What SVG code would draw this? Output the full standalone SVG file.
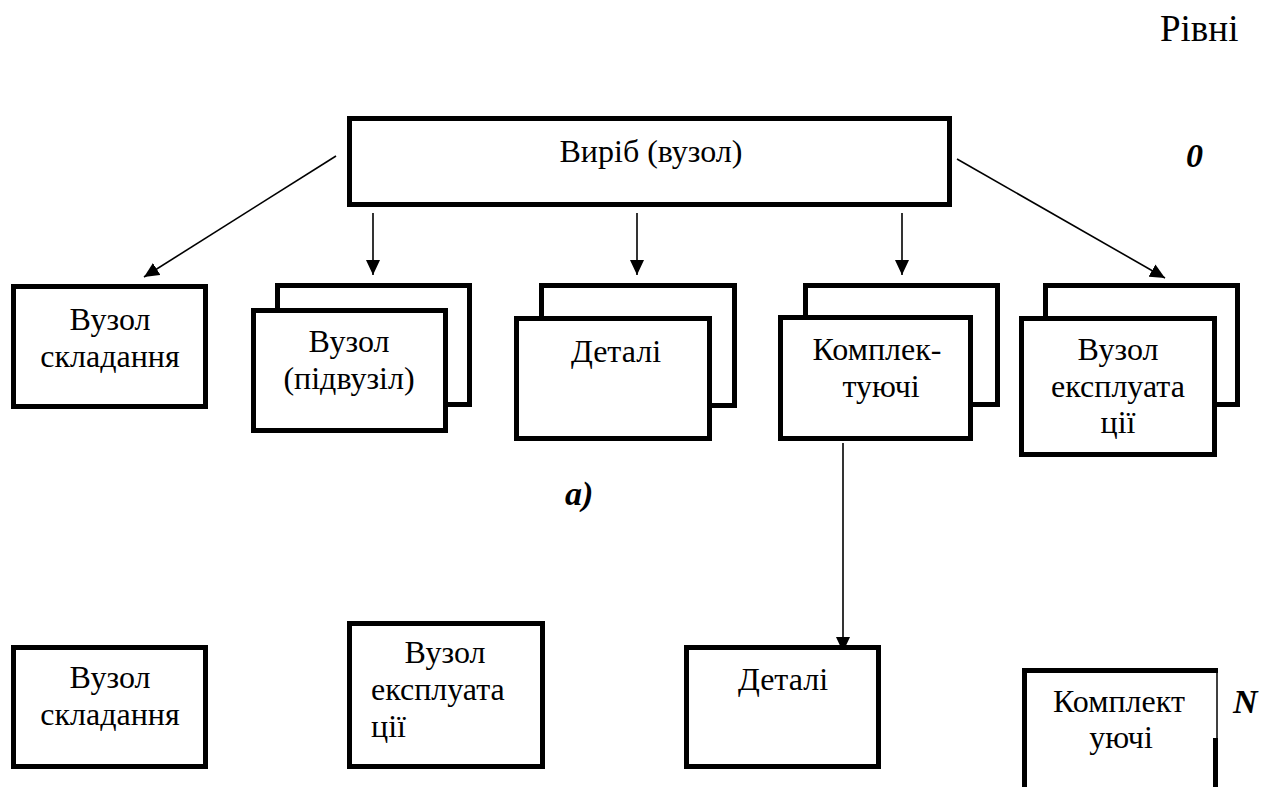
<svg xmlns="http://www.w3.org/2000/svg" width="1277" height="787" viewBox="0 0 1277 787">
  <style>
    .box { fill: #ffffff; stroke: #000000; stroke-width: 5; }
    .edge { fill: none; stroke: #000000; stroke-width: 1.6; }
    .t { font-family: "Liberation Serif", "Times New Roman", serif; font-size: 32px; fill: #000000; text-anchor: middle; }
    .tl { text-anchor: start; }
    .lvl { font-family: "Liberation Serif", "Times New Roman", serif; font-size: 34px; font-weight: bold; font-style: italic; fill: #000000; }
  </style>
  <defs>
    <marker id="ah" viewBox="0 0 15 14" refX="15" refY="7" markerWidth="15" markerHeight="14" markerUnits="userSpaceOnUse" orient="auto">
      <path d="M0,0 L15,7 L0,14 z" fill="#000000"/>
    </marker>
  </defs>
  <rect width="1277" height="787" fill="#ffffff"/>

  <!-- level captions -->
  <text x="1160" y="41" style="font-family: 'Liberation Serif', 'Times New Roman', serif; font-size: 37px;">Рівні</text>
  <text class="lvl" x="1186" y="167">0</text>
  <text class="lvl" x="565" y="505">а)</text>
  <text class="lvl" x="1233" y="713">N</text>

  <!-- connectors -->
  <g id="connectors">
    <line class="edge" x1="336" y1="156" x2="144" y2="277" marker-end="url(#ah)"/>
    <line class="edge" x1="373" y1="213" x2="373" y2="275" marker-end="url(#ah)"/>
    <line class="edge" x1="637" y1="213" x2="637" y2="275" marker-end="url(#ah)"/>
    <line class="edge" x1="902" y1="213" x2="902" y2="275" marker-end="url(#ah)"/>
    <line class="edge" x1="957" y1="159" x2="1165" y2="278" marker-end="url(#ah)"/>
    <line class="edge" x1="843" y1="443" x2="843" y2="652" marker-end="url(#ah)"/>
  </g>

  <!-- level 0 -->
  <g id="node-product">
    <rect class="box" x="349.5" y="118.5" width="600" height="86"/>
    <text class="t" x="651" y="162">Виріб (вузол)</text>
  </g>

  <!-- level 1 -->
  <g id="node-assembly-unit">
    <rect class="box" x="13.5" y="286.5" width="192" height="120"/>
    <text class="t" x="110" y="330">Вузол</text>
    <text class="t" x="110" y="367">складання</text>
  </g>

  <g id="node-subunit">
    <rect class="box" x="277.5" y="285.5" width="192" height="119"/>
    <rect class="box" x="253.5" y="310.5" width="192" height="120"/>
    <text class="t" x="349" y="352">Вузол</text>
    <text class="t" x="349" y="389">(підвузіл)</text>
  </g>

  <g id="node-parts">
    <rect class="box" x="541.5" y="285.5" width="193" height="120"/>
    <rect class="box" x="516.5" y="318.5" width="193" height="120"/>
    <text class="t" x="616" y="362">Деталі</text>
  </g>

  <g id="node-components">
    <rect class="box" x="805.5" y="285.5" width="192" height="119"/>
    <rect class="box" x="780.5" y="317.5" width="190" height="121"/>
    <text class="t" x="877" y="360">Комплек-</text>
    <text class="t" x="881" y="397">туючі</text>
  </g>

  <g id="node-service-unit">
    <rect class="box" x="1045.5" y="285.5" width="192" height="119"/>
    <rect class="box" x="1021.5" y="318.5" width="193" height="136"/>
    <text class="t" x="1118" y="360">Вузол</text>
    <text class="t" x="1118" y="397">експлуата</text>
    <text class="t" x="1118" y="433">ції</text>
  </g>

  <!-- level N -->
  <g id="node-assembly-unit-n">
    <rect class="box" x="13.5" y="647.5" width="192" height="119"/>
    <text class="t" x="110" y="688">Вузол</text>
    <text class="t" x="110" y="725">складання</text>
  </g>

  <g id="node-service-unit-n">
    <rect class="box" x="349.5" y="623.5" width="193" height="143"/>
    <text class="t" x="445" y="663">Вузол</text>
    <text class="t tl" x="371" y="700">експлуата</text>
    <text class="t tl" x="371" y="737">ції</text>
  </g>

  <g id="node-parts-n">
    <rect class="box" x="686.5" y="647.5" width="192" height="119"/>
    <text class="t" x="783" y="690">Деталі</text>
  </g>

  <g id="node-components-n">
    <path d="M1024.5,800 V670.5 H1218" fill="none" stroke="#000000" stroke-width="5"/>
    <line x1="1217" y1="668" x2="1217" y2="738" stroke="#000000" stroke-width="1.5"/>
    <line x1="1215.5" y1="738" x2="1215.5" y2="800" stroke="#000000" stroke-width="5"/>
    <text class="t" x="1119" y="712">Комплект</text>
    <text class="t" x="1121" y="748">уючі</text>
  </g>
</svg>
